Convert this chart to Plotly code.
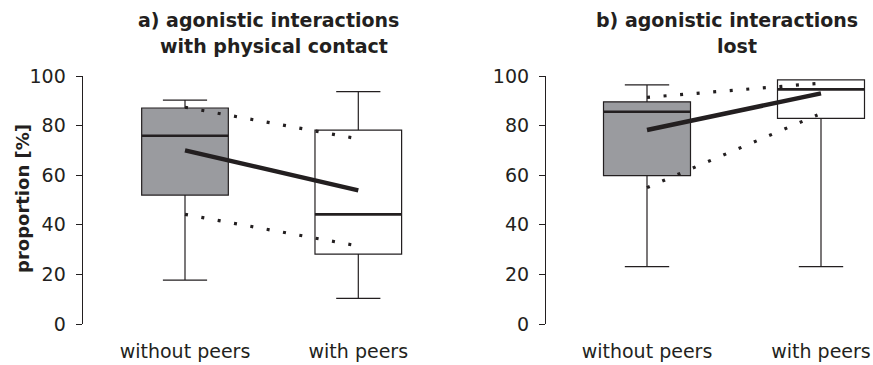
import plotly.graph_objects as go

W, H = 873, 365

categories = ["without peers", "with peers"]
cat_pos = [0, 1]

# panel a) agonistic interactions with physical contact
a_q1 = [52.0, 28.2]
a_med = [75.9, 44.2]
a_q3 = [87.1, 78.2]
a_lo = [17.7, 10.3]
a_hi = [90.3, 93.7]
a_mean = [70.0, 53.9]
a_ci_hi = [87.4, 75.1]
a_ci_lo = [44.2, 31.9]

# panel b) agonistic interactions lost
b_q1 = [59.8, 82.9]
b_med = [85.6, 94.6]
b_q3 = [89.6, 98.4]
b_lo = [23.1, 23.1]
b_hi = [96.4, 98.4]
b_mean = [78.2, 93.0]
b_ci_hi = [91.4, 97.0]
b_ci_lo = [55.0, 84.3]

yticks = [0, 20, 40, 60, 80, 100]

GRAY = "#9a9b9f"
INK = "#231f20"
FONT = "DejaVu Sans"
BOXW = 0.5

fig = go.Figure()


def add_panel(xa, ya, q1, med, q3, lo, hi, mean, ci_hi, ci_lo, ci_end):
    fills = [GRAY, "#ffffff"]
    for i in range(2):
        fig.add_trace(go.Box(
            x=[cat_pos[i]], q1=[q1[i]], median=[med[i]], q3=[q3[i]],
            lowerfence=[lo[i]], upperfence=[hi[i]],
            width=BOXW, whiskerwidth=0.51,
            fillcolor=fills[i], line=dict(color=INK, width=1.2),
            boxpoints=False, xaxis=xa, yaxis=ya, showlegend=False,
            hoverinfo="skip",
        ))
        # thicker median line
        fig.add_trace(go.Scatter(
            x=[cat_pos[i] - BOXW / 2, cat_pos[i] + BOXW / 2], y=[med[i], med[i]],
            mode="lines", line=dict(color=INK, width=2.6),
            xaxis=xa, yaxis=ya, showlegend=False, hoverinfo="skip",
        ))
    # confidence band (dotted)
    for ci in (ci_hi, ci_lo):
        fig.add_trace(go.Scatter(
            x=[cat_pos[0], ci_end], y=ci, mode="lines",
            line=dict(color=INK, width=3.2, dash="3px,13.6px"),
            xaxis=xa, yaxis=ya, showlegend=False, hoverinfo="skip",
        ))
    # mean line
    fig.add_trace(go.Scatter(
        x=cat_pos, y=mean, mode="lines",
        line=dict(color=INK, width=4.5),
        xaxis=xa, yaxis=ya, showlegend=False, hoverinfo="skip",
    ))


add_panel("x", "y", a_q1, a_med, a_q3, a_lo, a_hi, a_mean, a_ci_hi, a_ci_lo, 0.965)
add_panel("x2", "y2", b_q1, b_med, b_q3, b_lo, b_hi, b_mean, b_ci_hi, b_ci_lo, 0.98)

y_dom = [41 / H, 289 / H]

xcommon = dict(
    tickvals=cat_pos, ticktext=categories, showgrid=False, zeroline=False,
    showline=False, ticks="", ticklabelstandoff=14, automargin=False,
    tickfont=dict(family=FONT, size=19, color=INK),
)
ycommon = dict(
    range=[0, 100], tickvals=yticks, showgrid=False, zeroline=False,
    showline=True, linecolor=INK, linewidth=1.2, ticks="outside", ticklen=6,
    tickwidth=1.2, tickcolor=INK, ticklabelstandoff=6, automargin=False,
    tickfont=dict(family=FONT, size=19, color=INK),
)

# panel a: axis line at px 82.7, 173.3 px per category unit
a_l, a_r, a_pu, a_c0 = 82.7, 440.0, 173.3, 185.0
b_l, b_r, b_pu, b_c0 = 546.0, 870.0, 174.0, 647.0

fig.update_layout(
    width=W, height=H,
    margin=dict(l=0, r=0, t=0, b=0, autoexpand=False),
    paper_bgcolor="white", plot_bgcolor="white",
    xaxis=dict(domain=[a_l / W, a_r / W],
               range=[-(a_c0 - a_l) / a_pu, (a_r - a_c0) / a_pu], **xcommon),
    yaxis=dict(domain=y_dom, anchor="x", **ycommon),
    xaxis2=dict(domain=[b_l / W, b_r / W],
                range=[-(b_c0 - b_l) / b_pu, (b_r - b_c0) / b_pu], anchor="y2", **xcommon),
    yaxis2=dict(domain=y_dom, anchor="x2", **ycommon),
)

title_font = dict(family=FONT, size=19, color=INK)
titles = [
    ("a) agonistic interactions", 268.5, 20),
    ("with physical contact", 274.0, 46),
    ("b) agonistic interactions", 726.5, 20),
    ("lost", 737.0, 46),
]
for txt, cx, cy in titles:
    fig.add_annotation(
        text="<b>%s</b>" % txt, x=cx / W, y=1 - cy / H, xref="paper", yref="paper",
        xanchor="center", yanchor="middle", showarrow=False, font=title_font,
    )

fig.add_annotation(
    text="<b>proportion [%]</b>", x=22 / W, y=1 - 199 / H, xref="paper", yref="paper",
    xanchor="center", yanchor="middle", showarrow=False, textangle=-90,
    font=dict(family=FONT, size=18, color=INK),
)

fig.write_html("out.html")
